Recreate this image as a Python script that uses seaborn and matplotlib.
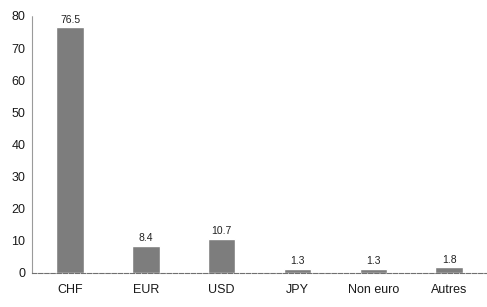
import matplotlib
matplotlib.use("Agg")
import matplotlib.pyplot as plt
import pandas as pd
import seaborn as sns

# data
currencies = ["CHF", "EUR", "USD", "JPY", "Non euro", "Autres"]
shares = [76.5, 8.4, 10.7, 1.3, 1.3, 1.8]
value_labels = ["76.5", "8.4", "10.7", "1.3", "1.3", "1.8"]
y_ticks = [0, 10, 20, 30, 40, 50, 60, 70, 80]

sns.set_style("white")
plt.rcParams["font.family"] = ["Liberation Sans", "DejaVu Sans"]

df = pd.DataFrame({"currency": currencies, "share": shares})

fig = plt.figure(figsize=(4.87, 3.07), dpi=100)
ax = fig.add_axes([0.066, 0.111, 0.934, 0.837])

sns.barplot(data=df, x="currency", y="share", color="#7d7d7d",
            width=0.36, saturation=1, ax=ax)

for i, (v, lab) in enumerate(zip(shares, value_labels)):
    ax.text(i, v + 0.8, lab, ha="center", va="bottom", fontsize=7.5, color="#222222")

ax.set_xlim(-0.5, 5.5)
ax.set_ylim(0, 80)
ax.set_yticks(y_ticks)
ax.tick_params(axis="both", length=0, labelsize=9, colors="#1a1a1a")
ax.tick_params(axis="y", pad=5)
ax.tick_params(axis="x", pad=8)
ax.set_xlabel("")
ax.set_ylabel("")

for side in ["top", "right"]:
    ax.spines[side].set_visible(False)
ax.spines["left"].set_color("#9a9a9a")
ax.spines["left"].set_linestyle((0, (3, 1)))
ax.spines["left"].set_linewidth(0.8)
ax.spines["bottom"].set_color("#707070")
ax.spines["bottom"].set_linestyle((0, (4, 1.5)))
ax.spines["bottom"].set_linewidth(0.8)

fig.savefig("out.png", dpi=100)
